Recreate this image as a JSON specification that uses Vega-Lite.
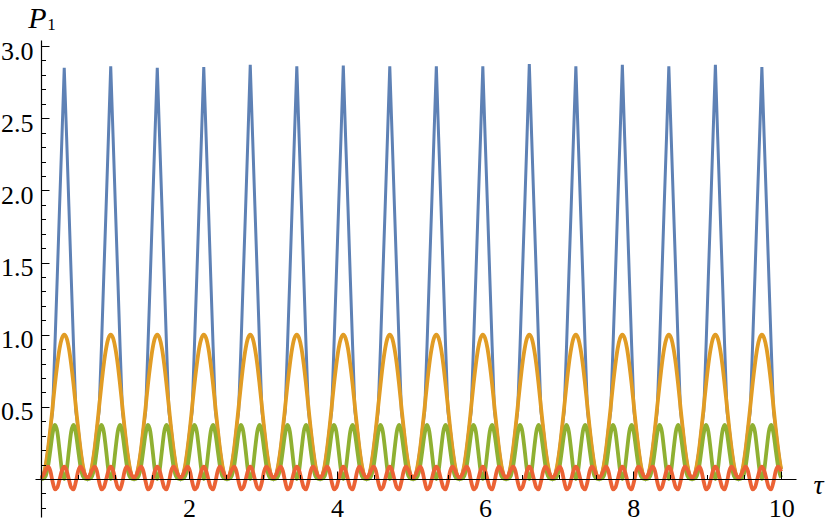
{
  "$schema": "https://vega.github.io/schema/vega-lite/v6.json",
  "width": 761,
  "height": 477,
  "autosize": {"type": "none"},
  "padding": {"left": 35, "top": 40, "right": 34, "bottom": 4},
  "background": "white",
  "config": {
    "font": "Liberation Serif, DejaVu Serif, Times New Roman, serif",
    "view": {"stroke": null},
    "axis": {"grid": false, "tickColor": "#000", "tickWidth": 1, "domainColor": "#000", "domainWidth": 1.2, "labelColor": "#000", "titleColor": "#000",
      "labelFont": "Liberation Serif, DejaVu Serif, Times New Roman, serif", "titleFont": "Liberation Serif, DejaVu Serif, Times New Roman, serif", "labelFontSize": 26}
  },
  "data": {"values": [
    {"t":0,"a":0,"b":0,"c":0,"d":0.01},{"t":0.031,"a":0.024,"b":0.024,"c":0.002,"d":0.027},{"t":0.063,"a":0.095,"b":0.095,"c":0.021,"d":0.063},{"t":0.094,"a":0.206,"b":0.206,"c":0.085,"d":0.085},{"t":0.126,"a":0.345,"b":0.345,"c":0.198,"d":0.057},{"t":0.157,"a":0.47,"b":0.5,"c":0.316,"d":-0.019},{"t":0.188,"a":0.92,"b":0.655,"c":0.375,"d":-0.072},{"t":0.220,"a":1.404,"b":0.794,"c":0.329,"d":-0.059},{"t":0.251,"a":1.888,"b":0.905,"c":0.198,"d":-0.003},{"t":0.283,"a":2.371,"b":0.976,"c":0.059,"d":0.059},
    {"t":0.314,"a":2.85,"b":1,"c":0,"d":0.085},{"t":0.346,"a":2.371,"b":0.976,"c":0.059,"d":0.059},{"t":0.377,"a":1.888,"b":0.905,"c":0.198,"d":-0.003},{"t":0.408,"a":1.404,"b":0.794,"c":0.329,"d":-0.059},{"t":0.440,"a":0.92,"b":0.655,"c":0.375,"d":-0.072},{"t":0.471,"a":0.47,"b":0.5,"c":0.316,"d":-0.019},{"t":0.503,"a":0.345,"b":0.345,"c":0.198,"d":0.057},{"t":0.534,"a":0.206,"b":0.206,"c":0.085,"d":0.085},{"t":0.565,"a":0.095,"b":0.095,"c":0.021,"d":0.063},{"t":0.597,"a":0.024,"b":0.024,"c":0.002,"d":0.027},
    {"t":0.628,"a":0,"b":0,"c":0,"d":0.01},{"t":0.660,"a":0.024,"b":0.024,"c":0.002,"d":0.027},{"t":0.691,"a":0.095,"b":0.095,"c":0.021,"d":0.063},{"t":0.723,"a":0.206,"b":0.206,"c":0.085,"d":0.085},{"t":0.754,"a":0.345,"b":0.345,"c":0.198,"d":0.057},{"t":0.785,"a":0.47,"b":0.5,"c":0.316,"d":-0.019},{"t":0.817,"a":0.92,"b":0.655,"c":0.375,"d":-0.072},{"t":0.848,"a":1.404,"b":0.794,"c":0.329,"d":-0.059},{"t":0.880,"a":1.888,"b":0.905,"c":0.198,"d":-0.003},{"t":0.911,"a":2.371,"b":0.976,"c":0.059,"d":0.059},
    {"t":0.942,"a":2.86,"b":1,"c":0,"d":0.085},{"t":0.974,"a":2.371,"b":0.976,"c":0.059,"d":0.059},{"t":1.005,"a":1.888,"b":0.905,"c":0.198,"d":-0.003},{"t":1.037,"a":1.404,"b":0.794,"c":0.329,"d":-0.059},{"t":1.068,"a":0.92,"b":0.655,"c":0.375,"d":-0.072},{"t":1.100,"a":0.47,"b":0.5,"c":0.316,"d":-0.019},{"t":1.131,"a":0.345,"b":0.345,"c":0.198,"d":0.057},{"t":1.162,"a":0.206,"b":0.206,"c":0.085,"d":0.085},{"t":1.194,"a":0.095,"b":0.095,"c":0.021,"d":0.063},{"t":1.225,"a":0.024,"b":0.024,"c":0.002,"d":0.027},
    {"t":1.257,"a":0,"b":0,"c":0,"d":0.01},{"t":1.288,"a":0.024,"b":0.024,"c":0.002,"d":0.027},{"t":1.319,"a":0.095,"b":0.095,"c":0.021,"d":0.063},{"t":1.351,"a":0.206,"b":0.206,"c":0.085,"d":0.085},{"t":1.382,"a":0.345,"b":0.345,"c":0.198,"d":0.057},{"t":1.414,"a":0.47,"b":0.5,"c":0.316,"d":-0.019},{"t":1.445,"a":0.92,"b":0.655,"c":0.375,"d":-0.072},{"t":1.477,"a":1.404,"b":0.794,"c":0.329,"d":-0.059},{"t":1.508,"a":1.888,"b":0.905,"c":0.198,"d":-0.003},{"t":1.539,"a":2.371,"b":0.976,"c":0.059,"d":0.059},
    {"t":1.571,"a":2.85,"b":1,"c":0,"d":0.085},{"t":1.602,"a":2.371,"b":0.976,"c":0.059,"d":0.059},{"t":1.634,"a":1.888,"b":0.905,"c":0.198,"d":-0.003},{"t":1.665,"a":1.404,"b":0.794,"c":0.329,"d":-0.059},{"t":1.696,"a":0.92,"b":0.655,"c":0.375,"d":-0.072},{"t":1.728,"a":0.47,"b":0.5,"c":0.316,"d":-0.019},{"t":1.759,"a":0.345,"b":0.345,"c":0.198,"d":0.057},{"t":1.791,"a":0.206,"b":0.206,"c":0.085,"d":0.085},{"t":1.822,"a":0.095,"b":0.095,"c":0.021,"d":0.063},{"t":1.854,"a":0.024,"b":0.024,"c":0.002,"d":0.027},
    {"t":1.885,"a":0,"b":0,"c":0,"d":0.01},{"t":1.916,"a":0.024,"b":0.024,"c":0.002,"d":0.027},{"t":1.948,"a":0.095,"b":0.095,"c":0.021,"d":0.063},{"t":1.979,"a":0.206,"b":0.206,"c":0.085,"d":0.085},{"t":2.011,"a":0.345,"b":0.345,"c":0.198,"d":0.057},{"t":2.042,"a":0.47,"b":0.5,"c":0.316,"d":-0.019},{"t":2.073,"a":0.92,"b":0.655,"c":0.375,"d":-0.072},{"t":2.105,"a":1.404,"b":0.794,"c":0.329,"d":-0.059},{"t":2.136,"a":1.888,"b":0.905,"c":0.198,"d":-0.003},{"t":2.168,"a":2.371,"b":0.976,"c":0.059,"d":0.059},
    {"t":2.199,"a":2.855,"b":1,"c":0,"d":0.085},{"t":2.231,"a":2.371,"b":0.976,"c":0.059,"d":0.059},{"t":2.262,"a":1.888,"b":0.905,"c":0.198,"d":-0.003},{"t":2.293,"a":1.404,"b":0.794,"c":0.329,"d":-0.059},{"t":2.325,"a":0.92,"b":0.655,"c":0.375,"d":-0.072},{"t":2.356,"a":0.47,"b":0.5,"c":0.316,"d":-0.019},{"t":2.388,"a":0.345,"b":0.345,"c":0.198,"d":0.057},{"t":2.419,"a":0.206,"b":0.206,"c":0.085,"d":0.085},{"t":2.450,"a":0.095,"b":0.095,"c":0.021,"d":0.063},{"t":2.482,"a":0.024,"b":0.024,"c":0.002,"d":0.027},
    {"t":2.513,"a":0,"b":0,"c":0,"d":0.01},{"t":2.545,"a":0.024,"b":0.024,"c":0.002,"d":0.027},{"t":2.576,"a":0.095,"b":0.095,"c":0.021,"d":0.063},{"t":2.608,"a":0.206,"b":0.206,"c":0.085,"d":0.085},{"t":2.639,"a":0.345,"b":0.345,"c":0.198,"d":0.057},{"t":2.670,"a":0.47,"b":0.5,"c":0.316,"d":-0.019},{"t":2.702,"a":0.92,"b":0.655,"c":0.375,"d":-0.072},{"t":2.733,"a":1.404,"b":0.794,"c":0.329,"d":-0.059},{"t":2.765,"a":1.888,"b":0.905,"c":0.198,"d":-0.003},{"t":2.796,"a":2.371,"b":0.976,"c":0.059,"d":0.059},
    {"t":2.827,"a":2.87,"b":1,"c":0,"d":0.085},{"t":2.859,"a":2.371,"b":0.976,"c":0.059,"d":0.059},{"t":2.890,"a":1.888,"b":0.905,"c":0.198,"d":-0.003},{"t":2.922,"a":1.404,"b":0.794,"c":0.329,"d":-0.059},{"t":2.953,"a":0.92,"b":0.655,"c":0.375,"d":-0.072},{"t":2.985,"a":0.47,"b":0.5,"c":0.316,"d":-0.019},{"t":3.016,"a":0.345,"b":0.345,"c":0.198,"d":0.057},{"t":3.047,"a":0.206,"b":0.206,"c":0.085,"d":0.085},{"t":3.079,"a":0.095,"b":0.095,"c":0.021,"d":0.063},{"t":3.110,"a":0.024,"b":0.024,"c":0.002,"d":0.027},
    {"t":3.142,"a":0,"b":0,"c":0,"d":0.01},{"t":3.173,"a":0.024,"b":0.024,"c":0.002,"d":0.027},{"t":3.204,"a":0.095,"b":0.095,"c":0.021,"d":0.063},{"t":3.236,"a":0.206,"b":0.206,"c":0.085,"d":0.085},{"t":3.267,"a":0.345,"b":0.345,"c":0.198,"d":0.057},{"t":3.299,"a":0.47,"b":0.5,"c":0.316,"d":-0.019},{"t":3.330,"a":0.92,"b":0.655,"c":0.375,"d":-0.072},{"t":3.362,"a":1.404,"b":0.794,"c":0.329,"d":-0.059},{"t":3.393,"a":1.888,"b":0.905,"c":0.198,"d":-0.003},{"t":3.424,"a":2.371,"b":0.976,"c":0.059,"d":0.059},
    {"t":3.456,"a":2.86,"b":1,"c":0,"d":0.085},{"t":3.487,"a":2.371,"b":0.976,"c":0.059,"d":0.059},{"t":3.519,"a":1.888,"b":0.905,"c":0.198,"d":-0.003},{"t":3.550,"a":1.404,"b":0.794,"c":0.329,"d":-0.059},{"t":3.581,"a":0.92,"b":0.655,"c":0.375,"d":-0.072},{"t":3.613,"a":0.47,"b":0.5,"c":0.316,"d":-0.019},{"t":3.644,"a":0.345,"b":0.345,"c":0.198,"d":0.057},{"t":3.676,"a":0.206,"b":0.206,"c":0.085,"d":0.085},{"t":3.707,"a":0.095,"b":0.095,"c":0.021,"d":0.063},{"t":3.738,"a":0.024,"b":0.024,"c":0.002,"d":0.027},
    {"t":3.770,"a":0,"b":0,"c":0,"d":0.01},{"t":3.801,"a":0.024,"b":0.024,"c":0.002,"d":0.027},{"t":3.833,"a":0.095,"b":0.095,"c":0.021,"d":0.063},{"t":3.864,"a":0.206,"b":0.206,"c":0.085,"d":0.085},{"t":3.896,"a":0.345,"b":0.345,"c":0.198,"d":0.057},{"t":3.927,"a":0.47,"b":0.5,"c":0.316,"d":-0.019},{"t":3.958,"a":0.92,"b":0.655,"c":0.375,"d":-0.072},{"t":3.990,"a":1.404,"b":0.794,"c":0.329,"d":-0.059},{"t":4.021,"a":1.888,"b":0.905,"c":0.198,"d":-0.003},{"t":4.053,"a":2.371,"b":0.976,"c":0.059,"d":0.059},
    {"t":4.084,"a":2.865,"b":1,"c":0,"d":0.085},{"t":4.115,"a":2.371,"b":0.976,"c":0.059,"d":0.059},{"t":4.147,"a":1.888,"b":0.905,"c":0.198,"d":-0.003},{"t":4.178,"a":1.404,"b":0.794,"c":0.329,"d":-0.059},{"t":4.210,"a":0.92,"b":0.655,"c":0.375,"d":-0.072},{"t":4.241,"a":0.47,"b":0.5,"c":0.316,"d":-0.019},{"t":4.273,"a":0.345,"b":0.345,"c":0.198,"d":0.057},{"t":4.304,"a":0.206,"b":0.206,"c":0.085,"d":0.085},{"t":4.335,"a":0.095,"b":0.095,"c":0.021,"d":0.063},{"t":4.367,"a":0.024,"b":0.024,"c":0.002,"d":0.027},
    {"t":4.398,"a":0,"b":0,"c":0,"d":0.01},{"t":4.430,"a":0.024,"b":0.024,"c":0.002,"d":0.027},{"t":4.461,"a":0.095,"b":0.095,"c":0.021,"d":0.063},{"t":4.492,"a":0.206,"b":0.206,"c":0.085,"d":0.085},{"t":4.524,"a":0.345,"b":0.345,"c":0.198,"d":0.057},{"t":4.555,"a":0.47,"b":0.5,"c":0.316,"d":-0.019},{"t":4.587,"a":0.92,"b":0.655,"c":0.375,"d":-0.072},{"t":4.618,"a":1.404,"b":0.794,"c":0.329,"d":-0.059},{"t":4.650,"a":1.888,"b":0.905,"c":0.198,"d":-0.003},{"t":4.681,"a":2.371,"b":0.976,"c":0.059,"d":0.059},
    {"t":4.712,"a":2.86,"b":1,"c":0,"d":0.085},{"t":4.744,"a":2.371,"b":0.976,"c":0.059,"d":0.059},{"t":4.775,"a":1.888,"b":0.905,"c":0.198,"d":-0.003},{"t":4.807,"a":1.404,"b":0.794,"c":0.329,"d":-0.059},{"t":4.838,"a":0.92,"b":0.655,"c":0.375,"d":-0.072},{"t":4.869,"a":0.47,"b":0.5,"c":0.316,"d":-0.019},{"t":4.901,"a":0.345,"b":0.345,"c":0.198,"d":0.057},{"t":4.932,"a":0.206,"b":0.206,"c":0.085,"d":0.085},{"t":4.964,"a":0.095,"b":0.095,"c":0.021,"d":0.063},{"t":4.995,"a":0.024,"b":0.024,"c":0.002,"d":0.027},
    {"t":5.027,"a":0,"b":0,"c":0,"d":0.01},{"t":5.058,"a":0.024,"b":0.024,"c":0.002,"d":0.027},{"t":5.089,"a":0.095,"b":0.095,"c":0.021,"d":0.063},{"t":5.121,"a":0.206,"b":0.206,"c":0.085,"d":0.085},{"t":5.152,"a":0.345,"b":0.345,"c":0.198,"d":0.057},{"t":5.184,"a":0.47,"b":0.5,"c":0.316,"d":-0.019},{"t":5.215,"a":0.92,"b":0.655,"c":0.375,"d":-0.072},{"t":5.246,"a":1.404,"b":0.794,"c":0.329,"d":-0.059},{"t":5.278,"a":1.888,"b":0.905,"c":0.198,"d":-0.003},{"t":5.309,"a":2.371,"b":0.976,"c":0.059,"d":0.059},
    {"t":5.341,"a":2.86,"b":1,"c":0,"d":0.085},{"t":5.372,"a":2.371,"b":0.976,"c":0.059,"d":0.059},{"t":5.404,"a":1.888,"b":0.905,"c":0.198,"d":-0.003},{"t":5.435,"a":1.404,"b":0.794,"c":0.329,"d":-0.059},{"t":5.466,"a":0.92,"b":0.655,"c":0.375,"d":-0.072},{"t":5.498,"a":0.47,"b":0.5,"c":0.316,"d":-0.019},{"t":5.529,"a":0.345,"b":0.345,"c":0.198,"d":0.057},{"t":5.561,"a":0.206,"b":0.206,"c":0.085,"d":0.085},{"t":5.592,"a":0.095,"b":0.095,"c":0.021,"d":0.063},{"t":5.623,"a":0.024,"b":0.024,"c":0.002,"d":0.027},
    {"t":5.655,"a":0,"b":0,"c":0,"d":0.01},{"t":5.686,"a":0.024,"b":0.024,"c":0.002,"d":0.027},{"t":5.718,"a":0.095,"b":0.095,"c":0.021,"d":0.063},{"t":5.749,"a":0.206,"b":0.206,"c":0.085,"d":0.085},{"t":5.781,"a":0.345,"b":0.345,"c":0.198,"d":0.057},{"t":5.812,"a":0.47,"b":0.5,"c":0.316,"d":-0.019},{"t":5.843,"a":0.92,"b":0.655,"c":0.375,"d":-0.072},{"t":5.875,"a":1.404,"b":0.794,"c":0.329,"d":-0.059},{"t":5.906,"a":1.888,"b":0.905,"c":0.198,"d":-0.003},{"t":5.938,"a":2.371,"b":0.976,"c":0.059,"d":0.059},
    {"t":5.969,"a":2.86,"b":1,"c":0,"d":0.085},{"t":6.000,"a":2.371,"b":0.976,"c":0.059,"d":0.059},{"t":6.032,"a":1.888,"b":0.905,"c":0.198,"d":-0.003},{"t":6.063,"a":1.404,"b":0.794,"c":0.329,"d":-0.059},{"t":6.095,"a":0.92,"b":0.655,"c":0.375,"d":-0.072},{"t":6.126,"a":0.47,"b":0.5,"c":0.316,"d":-0.019},{"t":6.158,"a":0.345,"b":0.345,"c":0.198,"d":0.057},{"t":6.189,"a":0.206,"b":0.206,"c":0.085,"d":0.085},{"t":6.220,"a":0.095,"b":0.095,"c":0.021,"d":0.063},{"t":6.252,"a":0.024,"b":0.024,"c":0.002,"d":0.027},
    {"t":6.283,"a":0,"b":0,"c":0,"d":0.01},{"t":6.315,"a":0.024,"b":0.024,"c":0.002,"d":0.027},{"t":6.346,"a":0.095,"b":0.095,"c":0.021,"d":0.063},{"t":6.377,"a":0.206,"b":0.206,"c":0.085,"d":0.085},{"t":6.409,"a":0.345,"b":0.345,"c":0.198,"d":0.057},{"t":6.440,"a":0.47,"b":0.5,"c":0.316,"d":-0.019},{"t":6.472,"a":0.92,"b":0.655,"c":0.375,"d":-0.072},{"t":6.503,"a":1.404,"b":0.794,"c":0.329,"d":-0.059},{"t":6.535,"a":1.888,"b":0.905,"c":0.198,"d":-0.003},{"t":6.566,"a":2.371,"b":0.976,"c":0.059,"d":0.059},
    {"t":6.597,"a":2.875,"b":1,"c":0,"d":0.085},{"t":6.629,"a":2.371,"b":0.976,"c":0.059,"d":0.059},{"t":6.660,"a":1.888,"b":0.905,"c":0.198,"d":-0.003},{"t":6.692,"a":1.404,"b":0.794,"c":0.329,"d":-0.059},{"t":6.723,"a":0.92,"b":0.655,"c":0.375,"d":-0.072},{"t":6.754,"a":0.47,"b":0.5,"c":0.316,"d":-0.019},{"t":6.786,"a":0.345,"b":0.345,"c":0.198,"d":0.057},{"t":6.817,"a":0.206,"b":0.206,"c":0.085,"d":0.085},{"t":6.849,"a":0.095,"b":0.095,"c":0.021,"d":0.063},{"t":6.880,"a":0.024,"b":0.024,"c":0.002,"d":0.027},
    {"t":6.912,"a":0,"b":0,"c":0,"d":0.01},{"t":6.943,"a":0.024,"b":0.024,"c":0.002,"d":0.027},{"t":6.974,"a":0.095,"b":0.095,"c":0.021,"d":0.063},{"t":7.006,"a":0.206,"b":0.206,"c":0.085,"d":0.085},{"t":7.037,"a":0.345,"b":0.345,"c":0.198,"d":0.057},{"t":7.069,"a":0.47,"b":0.5,"c":0.316,"d":-0.019},{"t":7.100,"a":0.92,"b":0.655,"c":0.375,"d":-0.072},{"t":7.131,"a":1.404,"b":0.794,"c":0.329,"d":-0.059},{"t":7.163,"a":1.888,"b":0.905,"c":0.198,"d":-0.003},{"t":7.194,"a":2.371,"b":0.976,"c":0.059,"d":0.059},
    {"t":7.226,"a":2.86,"b":1,"c":0,"d":0.085},{"t":7.257,"a":2.371,"b":0.976,"c":0.059,"d":0.059},{"t":7.288,"a":1.888,"b":0.905,"c":0.198,"d":-0.003},{"t":7.320,"a":1.404,"b":0.794,"c":0.329,"d":-0.059},{"t":7.351,"a":0.92,"b":0.655,"c":0.375,"d":-0.072},{"t":7.383,"a":0.47,"b":0.5,"c":0.316,"d":-0.019},{"t":7.414,"a":0.345,"b":0.345,"c":0.198,"d":0.057},{"t":7.446,"a":0.206,"b":0.206,"c":0.085,"d":0.085},{"t":7.477,"a":0.095,"b":0.095,"c":0.021,"d":0.063},{"t":7.508,"a":0.024,"b":0.024,"c":0.002,"d":0.027},
    {"t":7.540,"a":0,"b":0,"c":0,"d":0.01},{"t":7.571,"a":0.024,"b":0.024,"c":0.002,"d":0.027},{"t":7.603,"a":0.095,"b":0.095,"c":0.021,"d":0.063},{"t":7.634,"a":0.206,"b":0.206,"c":0.085,"d":0.085},{"t":7.665,"a":0.345,"b":0.345,"c":0.198,"d":0.057},{"t":7.697,"a":0.47,"b":0.5,"c":0.316,"d":-0.019},{"t":7.728,"a":0.92,"b":0.655,"c":0.375,"d":-0.072},{"t":7.760,"a":1.404,"b":0.794,"c":0.329,"d":-0.059},{"t":7.791,"a":1.888,"b":0.905,"c":0.198,"d":-0.003},{"t":7.823,"a":2.371,"b":0.976,"c":0.059,"d":0.059},
    {"t":7.854,"a":2.87,"b":1,"c":0,"d":0.085},{"t":7.885,"a":2.371,"b":0.976,"c":0.059,"d":0.059},{"t":7.917,"a":1.888,"b":0.905,"c":0.198,"d":-0.003},{"t":7.948,"a":1.404,"b":0.794,"c":0.329,"d":-0.059},{"t":7.980,"a":0.92,"b":0.655,"c":0.375,"d":-0.072},{"t":8.011,"a":0.47,"b":0.5,"c":0.316,"d":-0.019},{"t":8.042,"a":0.345,"b":0.345,"c":0.198,"d":0.057},{"t":8.074,"a":0.206,"b":0.206,"c":0.085,"d":0.085},{"t":8.105,"a":0.095,"b":0.095,"c":0.021,"d":0.063},{"t":8.137,"a":0.024,"b":0.024,"c":0.002,"d":0.027},
    {"t":8.168,"a":0,"b":0,"c":0,"d":0.01},{"t":8.200,"a":0.024,"b":0.024,"c":0.002,"d":0.027},{"t":8.231,"a":0.095,"b":0.095,"c":0.021,"d":0.063},{"t":8.262,"a":0.206,"b":0.206,"c":0.085,"d":0.085},{"t":8.294,"a":0.345,"b":0.345,"c":0.198,"d":0.057},{"t":8.325,"a":0.47,"b":0.5,"c":0.316,"d":-0.019},{"t":8.357,"a":0.92,"b":0.655,"c":0.375,"d":-0.072},{"t":8.388,"a":1.404,"b":0.794,"c":0.329,"d":-0.059},{"t":8.419,"a":1.888,"b":0.905,"c":0.198,"d":-0.003},{"t":8.451,"a":2.371,"b":0.976,"c":0.059,"d":0.059},
    {"t":8.482,"a":2.86,"b":1,"c":0,"d":0.085},{"t":8.514,"a":2.371,"b":0.976,"c":0.059,"d":0.059},{"t":8.545,"a":1.888,"b":0.905,"c":0.198,"d":-0.003},{"t":8.577,"a":1.404,"b":0.794,"c":0.329,"d":-0.059},{"t":8.608,"a":0.92,"b":0.655,"c":0.375,"d":-0.072},{"t":8.639,"a":0.47,"b":0.5,"c":0.316,"d":-0.019},{"t":8.671,"a":0.345,"b":0.345,"c":0.198,"d":0.057},{"t":8.702,"a":0.206,"b":0.206,"c":0.085,"d":0.085},{"t":8.734,"a":0.095,"b":0.095,"c":0.021,"d":0.063},{"t":8.765,"a":0.024,"b":0.024,"c":0.002,"d":0.027},
    {"t":8.796,"a":0,"b":0,"c":0,"d":0.01},{"t":8.828,"a":0.024,"b":0.024,"c":0.002,"d":0.027},{"t":8.859,"a":0.095,"b":0.095,"c":0.021,"d":0.063},{"t":8.891,"a":0.206,"b":0.206,"c":0.085,"d":0.085},{"t":8.922,"a":0.345,"b":0.345,"c":0.198,"d":0.057},{"t":8.954,"a":0.47,"b":0.5,"c":0.316,"d":-0.019},{"t":8.985,"a":0.92,"b":0.655,"c":0.375,"d":-0.072},{"t":9.016,"a":1.404,"b":0.794,"c":0.329,"d":-0.059},{"t":9.048,"a":1.888,"b":0.905,"c":0.198,"d":-0.003},{"t":9.079,"a":2.371,"b":0.976,"c":0.059,"d":0.059},
    {"t":9.111,"a":2.87,"b":1,"c":0,"d":0.085},{"t":9.142,"a":2.371,"b":0.976,"c":0.059,"d":0.059},{"t":9.173,"a":1.888,"b":0.905,"c":0.198,"d":-0.003},{"t":9.205,"a":1.404,"b":0.794,"c":0.329,"d":-0.059},{"t":9.236,"a":0.92,"b":0.655,"c":0.375,"d":-0.072},{"t":9.268,"a":0.47,"b":0.5,"c":0.316,"d":-0.019},{"t":9.299,"a":0.345,"b":0.345,"c":0.198,"d":0.057},{"t":9.331,"a":0.206,"b":0.206,"c":0.085,"d":0.085},{"t":9.362,"a":0.095,"b":0.095,"c":0.021,"d":0.063},{"t":9.393,"a":0.024,"b":0.024,"c":0.002,"d":0.027},
    {"t":9.425,"a":0,"b":0,"c":0,"d":0.01},{"t":9.456,"a":0.024,"b":0.024,"c":0.002,"d":0.027},{"t":9.488,"a":0.095,"b":0.095,"c":0.021,"d":0.063},{"t":9.519,"a":0.206,"b":0.206,"c":0.085,"d":0.085},{"t":9.550,"a":0.345,"b":0.345,"c":0.198,"d":0.057},{"t":9.582,"a":0.47,"b":0.5,"c":0.316,"d":-0.019},{"t":9.613,"a":0.92,"b":0.655,"c":0.375,"d":-0.072},{"t":9.645,"a":1.404,"b":0.794,"c":0.329,"d":-0.059},{"t":9.676,"a":1.888,"b":0.905,"c":0.198,"d":-0.003},{"t":9.708,"a":2.371,"b":0.976,"c":0.059,"d":0.059},
    {"t":9.739,"a":2.855,"b":1,"c":0,"d":0.085},{"t":9.770,"a":2.371,"b":0.976,"c":0.059,"d":0.059},{"t":9.802,"a":1.888,"b":0.905,"c":0.198,"d":-0.003},{"t":9.833,"a":1.404,"b":0.794,"c":0.329,"d":-0.059},{"t":9.865,"a":0.92,"b":0.655,"c":0.375,"d":-0.072},{"t":9.896,"a":0.47,"b":0.5,"c":0.316,"d":-0.019},{"t":9.927,"a":0.345,"b":0.345,"c":0.198,"d":0.057},{"t":9.959,"a":0.206,"b":0.206,"c":0.085,"d":0.085},{"t":9.990,"a":0.095,"b":0.095,"c":0.021,"d":0.063},{"t":10,"a":0.069,"b":0.069,"c":0.011,"d":0.052}
  ]},
  "layer": [
    {
      "mark": {"type": "line", "color": "#5E81B5", "strokeWidth": 3, "interpolate": "linear"},
      "encoding": {
        "x": {"field": "t", "type": "quantitative", "scale": {"domain": [-0.081, 10.2], "nice": false, "zero": false},
          "axis": {"orient": "top", "offset": -439, "values": [2, 4, 6, 8, 10], "labels": false, "tickSize": 8, "domain": true, "zindex": 1,
            "title": "τ", "titleFontStyle": "italic", "titleFontWeight": "normal", "titleFontSize": 28,
            "titleAngle": 0, "titleAlign": "center", "titleBaseline": "alphabetic", "titleX": 783, "titleY": 14}},
        "y": {"field": "a", "type": "quantitative", "scale": {"domain": [-0.263, 3.042], "nice": false, "zero": false},
          "axis": {"orient": "right", "offset": -755, "values": [0.5, 1, 1.5, 2, 2.5, 3], "labels": false, "tickSize": 8, "domain": true, "zindex": 1,
            "title": "P", "titleFontStyle": "italic", "titleFontWeight": "normal", "titleFontSize": 30,
            "titleAngle": 0, "titleAlign": "center", "titleBaseline": "alphabetic", "titleX": -4, "titleY": -13}}
      }
    },
    {
      "mark": {"type": "line", "color": "#E19C24", "strokeWidth": 3.8, "interpolate": "monotone"},
      "encoding": {
        "x": {"field": "t", "type": "quantitative",
          "axis": {"orient": "top", "offset": -439, "values": [0.5, 1, 1.5, 2.5, 3, 3.5, 4.5, 5, 5.5, 6.5, 7, 7.5, 8.5, 9, 9.5], "labels": false, "tickSize": 4.5, "domain": false, "title": null, "zindex": 1}},
        "y": {"field": "b", "type": "quantitative",
          "axis": {"orient": "right", "offset": -755, "values": [-0.2, -0.1, 0.1, 0.2, 0.3, 0.4, 0.6, 0.7, 0.8, 0.9, 1.1, 1.2, 1.3, 1.4, 1.6, 1.7, 1.8, 1.9, 2.1, 2.2, 2.3, 2.4, 2.6, 2.7, 2.8, 2.9], "labels": false, "tickSize": 4.5, "domain": false, "zindex": 1,
            "title": "1", "titleFontWeight": "normal", "titleFontSize": 17,
            "titleAngle": 0, "titleAlign": "center", "titleBaseline": "alphabetic", "titleX": 10, "titleY": -11}}
      }
    },
    {
      "mark": {"type": "line", "color": "#8FB032", "strokeWidth": 3.8, "interpolate": "monotone"},
      "encoding": {
        "x": {"field": "t", "type": "quantitative",
          "axis": {"orient": "bottom", "offset": -38, "values": [2, 4, 6, 8, 10], "ticks": false, "tickSize": 0, "domain": false, "title": null,
            "labelFontSize": 26, "labelPadding": 37, "labelBaseline": "alphabetic", "labelFlush": false, "labelOverlap": false}},
        "y": {"field": "c", "type": "quantitative",
          "axis": {"orient": "left", "offset": -6, "values": [0.5, 1, 1.5, 2, 2.5, 3], "format": ".1f", "ticks": false, "tickSize": 0, "domain": false, "title": null,
            "labelFontSize": 26, "labelPadding": 8, "labelBaseline": "alphabetic", "labelOffset": 13, "labelFlush": false, "labelOverlap": false}}
      }
    },
    {
      "mark": {"type": "line", "color": "#EB6235", "strokeWidth": 3.8, "interpolate": "monotone"},
      "encoding": {
        "x": {"field": "t", "type": "quantitative", "axis": null},
        "y": {"field": "d", "type": "quantitative", "axis": null}
      }
    }
  ],
  "resolve": {"axis": {"x": "independent", "y": "independent"}}
}
